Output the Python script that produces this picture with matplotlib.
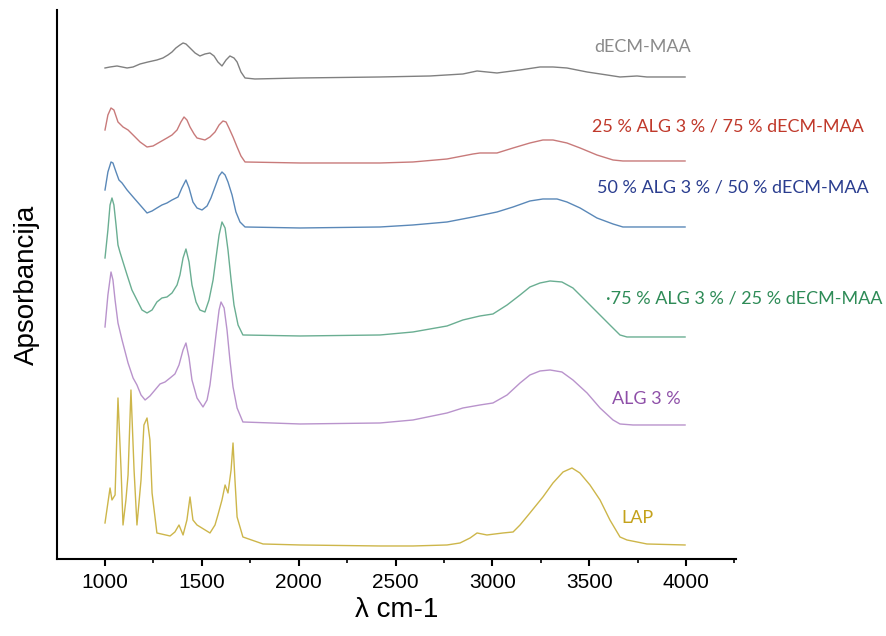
import numpy as np
import matplotlib
matplotlib.use("Agg")
import matplotlib.pyplot as plt
from matplotlib.ticker import MultipleLocator

# ===== spektri (valni broj, apsorbancija s pomakom) =====
wn_decm = [1000, 1026, 1062, 1088, 1114, 1145, 1181, 1222, 1268, 1299, 1325, 1346, 1366, 1387,
           1403, 1418, 1439, 1465, 1490, 1516, 1542, 1563, 1583, 1604, 1625, 1645, 1666, 1682,
           1702, 1723, 1774, 2007, 2420, 2678, 2848, 2921, 3024, 3143, 3246, 3313, 3385, 3489,
           3592, 3659, 3747, 3798, 3995]
ab_decm = [4.91, 4.92, 4.93, 4.92, 4.91, 4.92, 4.95, 4.97, 4.99, 5.01, 5.04, 5.07, 5.11, 5.14,
           5.16, 5.15, 5.11, 5.06, 5.03, 5.05, 5.06, 5.03, 4.97, 4.93, 4.99, 5.03, 5.01, 4.97,
           4.87, 4.81, 4.80, 4.81, 4.82, 4.83, 4.85, 4.88, 4.86, 4.89, 4.92, 4.92, 4.91, 4.87,
           4.84, 4.82, 4.83, 4.82, 4.82]

wn_25 = [1000, 1015, 1031, 1046, 1067, 1093, 1119, 1145, 1181, 1217, 1248, 1284, 1320, 1346,
         1372, 1392, 1408, 1423, 1439, 1460, 1475, 1516, 1542, 1568, 1589, 1609, 1625, 1640,
         1661, 1682, 1702, 1723, 2007, 2420, 2590, 2766, 2900, 2936, 3024, 3107, 3194, 3261,
         3313, 3385, 3453, 3540, 3623, 3674, 3995]
ab_25 = [4.29, 4.44, 4.51, 4.49, 4.37, 4.32, 4.29, 4.24, 4.17, 4.12, 4.13, 4.17, 4.21, 4.24,
         4.29, 4.37, 4.42, 4.39, 4.32, 4.25, 4.21, 4.19, 4.22, 4.27, 4.34, 4.38, 4.37, 4.31,
         4.22, 4.12, 4.03, 3.97, 3.96, 3.96, 3.97, 4.00, 4.05, 4.06, 4.06, 4.11, 4.16, 4.19,
         4.19, 4.16, 4.11, 4.04, 3.99, 3.98, 3.98]

wn_50 = [1000, 1015, 1031, 1041, 1057, 1072, 1088, 1114, 1145, 1181, 1217, 1243, 1268, 1294,
         1320, 1346, 1377, 1397, 1418, 1434, 1454, 1475, 1501, 1527, 1547, 1568, 1589, 1604,
         1620, 1635, 1656, 1676, 1697, 1723, 2007, 2420, 2590, 2766, 2900, 3024, 3107, 3194,
         3261, 3334, 3385, 3453, 3540, 3623, 3674, 3995]
ab_50 = [3.69, 3.87, 3.97, 3.96, 3.87, 3.79, 3.76, 3.69, 3.62, 3.54, 3.46, 3.48, 3.51, 3.54,
         3.56, 3.59, 3.62, 3.71, 3.79, 3.71, 3.57, 3.51, 3.49, 3.53, 3.61, 3.72, 3.83, 3.87,
         3.84, 3.77, 3.64, 3.47, 3.37, 3.32, 3.31, 3.32, 3.34, 3.37, 3.42, 3.47, 3.52, 3.58,
         3.60, 3.60, 3.57, 3.51, 3.41, 3.35, 3.32, 3.32]

wn_75 = [1000, 1015, 1026, 1036, 1046, 1057, 1067, 1077, 1093, 1114, 1139, 1165, 1191, 1217,
         1243, 1268, 1294, 1320, 1346, 1372, 1387, 1403, 1418, 1434, 1449, 1470, 1490, 1516,
         1537, 1558, 1573, 1589, 1604, 1620, 1635, 1651, 1666, 1687, 1712, 2007, 2420, 2590,
         2766, 2848, 2936, 3003, 3076, 3143, 3194, 3246, 3298, 3359, 3416, 3468, 3540, 3607,
         3659, 3695, 3798, 3995]
ab_75 = [3.01, 3.29, 3.54, 3.61, 3.54, 3.34, 3.14, 3.07, 2.97, 2.84, 2.69, 2.59, 2.49, 2.46,
         2.49, 2.57, 2.61, 2.62, 2.66, 2.74, 2.84, 3.01, 3.10, 2.97, 2.74, 2.57, 2.49, 2.47,
         2.59, 2.79, 3.01, 3.24, 3.37, 3.31, 3.09, 2.79, 2.54, 2.34, 2.24, 2.23, 2.24, 2.27,
         2.33, 2.39, 2.43, 2.45, 2.54, 2.64, 2.72, 2.76, 2.78, 2.77, 2.71, 2.61, 2.47, 2.34,
         2.24, 2.22, 2.22, 2.22]

wn_alg = [1000, 1015, 1031, 1041, 1052, 1067, 1088, 1119, 1145, 1165, 1186, 1207, 1232, 1258,
          1284, 1310, 1336, 1361, 1382, 1403, 1418, 1434, 1449, 1475, 1506, 1527, 1542, 1558,
          1573, 1589, 1599, 1615, 1630, 1645, 1661, 1682, 1712, 2007, 2420, 2590, 2766, 2848,
          2936, 3003, 3076, 3143, 3194, 3246, 3298, 3359, 3416, 3489, 3556, 3623, 3659, 3726,
          3995]
ab_alg = [2.32, 2.64, 2.87, 2.79, 2.59, 2.36, 2.19, 1.96, 1.81, 1.74, 1.64, 1.59, 1.63, 1.69,
          1.75, 1.77, 1.81, 1.85, 1.94, 2.09, 2.16, 2.01, 1.79, 1.61, 1.52, 1.59, 1.74, 1.99,
          2.24, 2.49, 2.57, 2.51, 2.29, 1.99, 1.72, 1.51, 1.37, 1.35, 1.36, 1.39, 1.46, 1.51,
          1.54, 1.56, 1.64, 1.76, 1.84, 1.88, 1.89, 1.87, 1.79, 1.66, 1.51, 1.39, 1.35, 1.34,
          1.34]

wn_lap = [1000, 1026, 1036, 1052, 1067, 1083, 1093, 1108, 1119, 1134, 1150, 1165, 1186, 1201,
          1217, 1232, 1243, 1268, 1336, 1361, 1382, 1403, 1423, 1439, 1454, 1475, 1542, 1568,
          1583, 1604, 1620, 1635, 1651, 1661, 1671, 1682, 1712, 1816, 2007, 2420, 2590, 2766,
          2833, 2885, 2921, 2972, 3055, 3107, 3143, 3194, 3261, 3313, 3365, 3411, 3452, 3504,
          3556, 3607, 3659, 3695, 3747, 3798, 3995]
ab_lap = [0.36, 0.71, 0.59, 0.64, 1.61, 0.89, 0.34, 0.59, 0.84, 1.69, 0.89, 0.34, 0.79, 1.34,
          1.41, 1.19, 0.66, 0.26, 0.23, 0.27, 0.34, 0.24, 0.39, 0.62, 0.39, 0.34, 0.26, 0.34,
          0.44, 0.59, 0.74, 0.66, 0.89, 1.16, 0.79, 0.42, 0.22, 0.15, 0.14, 0.13, 0.13, 0.14,
          0.16, 0.21, 0.26, 0.24, 0.26, 0.27, 0.34, 0.46, 0.62, 0.76, 0.87, 0.91, 0.86, 0.74,
          0.59, 0.39, 0.22, 0.19, 0.17, 0.15, 0.14]

labels = ["dECM-MAA", "25 % ALG 3 % / 75 % dECM-MAA", "50 % ALG 3 % / 50 % dECM-MAA",
          "·75 % ALG 3 % / 25 % dECM-MAA", "ALG 3 %", "LAP"]
# polozaj oznaka (valni broj, apsorbancija)
label_wn = [3778, 4216, 4242, 4299, 3793, 3747]
label_ab = [5.12, 4.32, 3.71, 2.60, 1.60, 0.41]

line_colors = ["#808080", "#c87a7a", "#5a88b8", "#6aae92", "#b993cc", "#cdb64a"]
text_colors = ["#8a8a8a", "#c0392b", "#2a3d8f", "#2e8b57", "#8e4fa8", "#c4a21c"]

spectra = [(wn_decm, ab_decm), (wn_25, ab_25), (wn_50, ab_50),
           (wn_75, ab_75), (wn_alg, ab_alg), (wn_lap, ab_lap)]

fig = plt.figure(figsize=(8.86, 6.36), dpi=100)
ax = fig.add_axes([0.0643, 0.1211, 0.7664, 0.8632])

for (wn, ab), lc in zip(spectra, line_colors):
    ax.plot(wn, ab, color=lc, linewidth=1.0)

for txt, x, y, tc in zip(labels, label_wn, label_ab, text_colors):
    ax.text(x, y, txt, color=tc, fontsize=13, family=["Lato", "DejaVu Sans"],
            ha="center", va="center", clip_on=False)

ax.set_xlim(752, 4258)
ax.set_ylim(0, 5.49)
ax.xaxis.set_major_locator(MultipleLocator(500))
ax.xaxis.set_minor_locator(MultipleLocator(250))
ax.set_yticks([])
for side in ["top", "right"]:
    ax.spines[side].set_visible(False)
ax.spines["left"].set_linewidth(1.5)
ax.spines["bottom"].set_linewidth(1.5)
ax.tick_params(axis="x", which="major", length=5, width=1.5, direction="out",
               labelsize=15, pad=5)
ax.tick_params(axis="x", which="minor", length=3, width=1.2, direction="out")
for lab in ax.get_xticklabels():
    lab.set_family(["Liberation Sans", "DejaVu Sans"])

ax.set_xlabel("λ cm-1", fontsize=20, family=["Liberation Sans", "DejaVu Sans"], labelpad=4)
ax.set_ylabel("Apsorbancija", fontsize=20, family=["Liberation Sans", "DejaVu Sans"], labelpad=12)

fig.savefig("out.png", dpi=100)
